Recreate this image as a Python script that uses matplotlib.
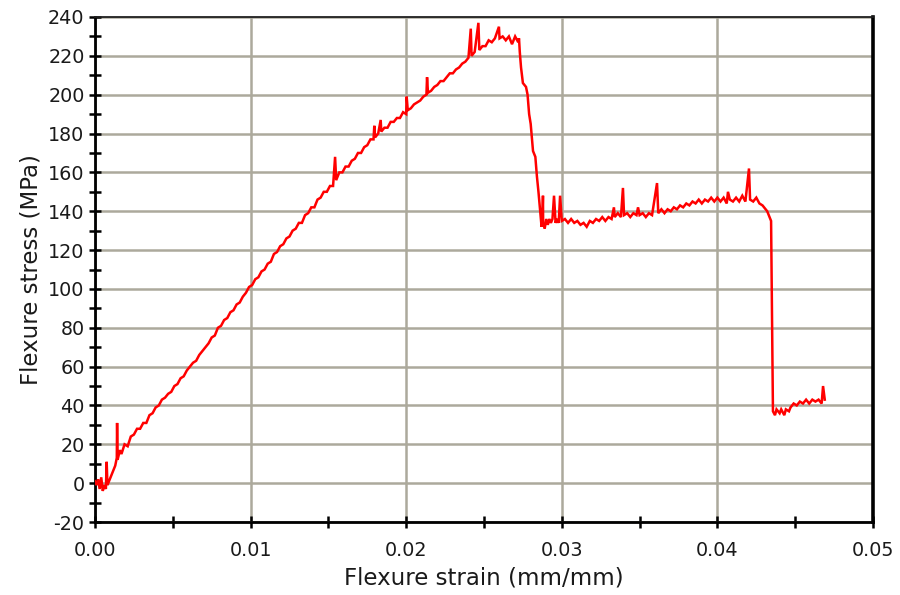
import matplotlib
matplotlib.use("Agg")
import matplotlib.pyplot as plt
from matplotlib.ticker import MultipleLocator, FormatStrFormatter

plt.rcParams["axes.unicode_minus"] = False

# Flexure strain (mm/mm) and stress (MPa)
strain = [
    0.0000, 0.0001, 0.0002, 0.0003, 0.0004, 0.0005, 0.0006, 0.0007, 0.00075, 0.0008,
    0.0009, 0.0011, 0.0013, 0.0014, 0.00142, 0.00145, 0.0016, 0.0017, 0.0019, 0.0021,
    0.0023, 0.0025, 0.0027, 0.0029, 0.0031, 0.0033, 0.0035, 0.0037, 0.0039, 0.0041,
    0.0043, 0.0045, 0.0047, 0.0049, 0.0051, 0.0053, 0.0055, 0.0057, 0.0059, 0.0061,
    0.0063, 0.0065, 0.0067, 0.0069, 0.0071, 0.0073, 0.0075, 0.0077, 0.0079, 0.0081,
    0.0083, 0.0085, 0.0087, 0.0089, 0.0091, 0.0093, 0.0095, 0.0097, 0.0099, 0.0101,
    0.0103, 0.0105, 0.0107, 0.0109, 0.0111, 0.0113, 0.0115, 0.0117, 0.0119, 0.0121,
    0.0123, 0.0125, 0.0127, 0.0129, 0.0131, 0.0133, 0.0135, 0.0137, 0.0139, 0.0141,
    0.0143, 0.0145, 0.0147, 0.0149, 0.0151, 0.0153, 0.01543, 0.0155, 0.0157, 0.0159,
    0.0161, 0.0163, 0.0165, 0.0167, 0.0169, 0.0171, 0.0173, 0.0175, 0.0177, 0.0179,
    0.01795, 0.0180, 0.0182, 0.01836, 0.0184, 0.0186, 0.0188, 0.0190, 0.0192, 0.0194,
    0.0196, 0.0198, 0.0200, 0.02003, 0.0201, 0.0203, 0.0205, 0.0207, 0.0209, 0.0211,
    0.0213, 0.02134, 0.0214, 0.0216, 0.0218, 0.0220, 0.0222, 0.0224, 0.0226, 0.0228,
    0.0230, 0.0232, 0.0234, 0.0236, 0.0238, 0.0240, 0.02415, 0.0242, 0.0244, 0.02464,
    0.0247, 0.0249, 0.0251, 0.0253, 0.0255, 0.0257, 0.02596, 0.0260, 0.0262, 0.0264,
    0.0266, 0.0268, 0.0270, 0.0272, 0.02725,
    0.0273, 0.02738, 0.0275, 0.0277, 0.0278, 0.0279, 0.0280, 0.02815, 0.0283, 0.0284,
    0.0285, 0.02865, 0.0287,
    0.02875, 0.02879, 0.0288, 0.0289, 0.0290, 0.0291, 0.0292, 0.0293, 0.0294, 0.02950,
    0.0296, 0.0297, 0.0298, 0.02989, 0.0300, 0.0302, 0.0304, 0.0306, 0.0308, 0.0310,
    0.0312, 0.0314, 0.0316, 0.0318, 0.0320, 0.0322, 0.0324, 0.0326, 0.0328, 0.0330,
    0.0332, 0.03335, 0.0334, 0.0336, 0.0338, 0.03393, 0.0340, 0.0342, 0.0344, 0.0346,
    0.0348, 0.0349, 0.0350, 0.0352, 0.0354, 0.0356, 0.0358, 0.03612, 0.0362, 0.0364,
    0.0366, 0.0368, 0.0370, 0.0372, 0.0374, 0.0376, 0.0378, 0.0380, 0.0382, 0.0384,
    0.0386, 0.0388, 0.0390, 0.0392, 0.0394, 0.0396, 0.0398, 0.0400, 0.0402, 0.0404,
    0.0406, 0.04068, 0.0408, 0.0410, 0.0412, 0.0414, 0.0416, 0.0418, 0.04203, 0.0421,
    0.0423, 0.0425, 0.0427, 0.0429, 0.0431, 0.0432, 0.0433, 0.04345, 0.04352, 0.04357,
    0.0437, 0.0438, 0.0440, 0.0441, 0.0443, 0.0444, 0.0446, 0.0447, 0.0449, 0.0451,
    0.0453, 0.0455, 0.0457, 0.0459, 0.0461, 0.0463, 0.0465, 0.0467, 0.04679, 0.0469,
]
stress = [
    1, -1, 2, -3, 3, -4, -1, -3, 11, -1,
    1, 5, 9, 13, 31, 12, 17, 15, 20, 19,
    24, 25, 28, 28, 31, 31, 35, 36, 39, 40,
    43, 44, 46, 47, 50, 51, 54, 55, 58, 60,
    62, 63, 66, 68, 70, 72, 75, 76, 80, 81,
    84, 85, 88, 89, 92, 93, 96, 98, 101, 102,
    105, 106, 109, 110, 113, 114, 118, 119, 122, 123,
    126, 127, 130, 131, 134, 134, 138, 139, 142, 142,
    146, 147, 150, 150, 153, 153, 168, 156, 160, 160,
    163, 163, 166, 167, 170, 170, 173, 174, 177, 177,
    184, 178, 180, 187, 181, 183, 183, 186, 186, 188,
    188, 191, 190, 199, 192, 193, 195, 196, 197, 199,
    200, 209, 201, 202, 204, 205, 207, 207, 209, 211,
    211, 213, 214, 216, 217, 219, 234, 220, 222, 237,
    223, 225, 225, 228, 227, 229, 235, 229, 230, 228,
    230, 226, 230, 227, 229,
    222, 214, 206, 204, 200, 190, 185, 171, 168, 158,
    150, 136, 132,
    135, 148, 134, 131, 136, 133, 136, 134, 136, 148,
    134, 136, 134, 148, 135, 136, 134, 136, 134, 135,
    133, 134, 132, 135, 134, 136, 135, 137, 135, 137,
    136, 142, 137, 139, 137, 152, 138, 139, 137, 139,
    138, 142, 138, 139, 137, 139, 138, 154.5, 139, 141,
    139, 141, 140, 142, 141, 143, 142, 144, 143, 145,
    144, 146, 144, 146, 145, 147, 145, 147, 145, 147,
    144, 150, 146, 145, 147, 145, 148, 145, 162, 146,
    145, 147, 144, 143, 141, 140, 138, 135, 80, 37,
    35, 38, 36, 38, 35, 38, 37, 39, 41, 40,
    42, 41, 43, 41, 43, 42, 43, 41, 50, 43,
]

x_label = "Flexure strain (mm/mm)"
y_label = "Flexure stress (MPa)"

fig = plt.figure(figsize=(9.0, 5.95), dpi=100)
ax = fig.add_axes([95 / 900, 73 / 595, 778 / 900, 505 / 595])

ax.plot(strain, stress, color="#ff0000", linewidth=1.8, solid_joinstyle="miter", zorder=3)

ax.set_xlim(0, 0.05)
ax.set_ylim(-20, 240)
ax.xaxis.set_major_locator(MultipleLocator(0.01))
ax.xaxis.set_minor_locator(MultipleLocator(0.005))
ax.yaxis.set_major_locator(MultipleLocator(20))
ax.yaxis.set_minor_locator(MultipleLocator(10))
ax.xaxis.set_major_formatter(FormatStrFormatter("%.2f"))

ax.grid(True, which="major", color="#aca99c", linewidth=1.8, zorder=1)
ax.set_axisbelow(True)

ax.tick_params(which="both", direction="inout", length=9, width=1.8, color="black",
               top=False, right=False)
ax.tick_params(axis="both", which="major", labelsize=13.8, labelcolor="#1a1a1a")
ax.tick_params(axis="x", which="major", pad=9)
ax.tick_params(axis="y", which="major", pad=3)

for side in ["left", "bottom"]:
    ax.spines[side].set_linewidth(2.0)
    ax.spines[side].set_color("black")
ax.spines["top"].set_linewidth(1.3)
ax.spines["top"].set_color("#202020")
ax.spines["right"].set_linewidth(2.6)
ax.spines["right"].set_color("black")

ax.set_xlabel(x_label, fontsize=16.5, color="#1a1a1a", labelpad=5)
ax.set_ylabel(y_label, fontsize=16.5, color="#1a1a1a", labelpad=4)

fig.savefig("out.png", dpi=100)
